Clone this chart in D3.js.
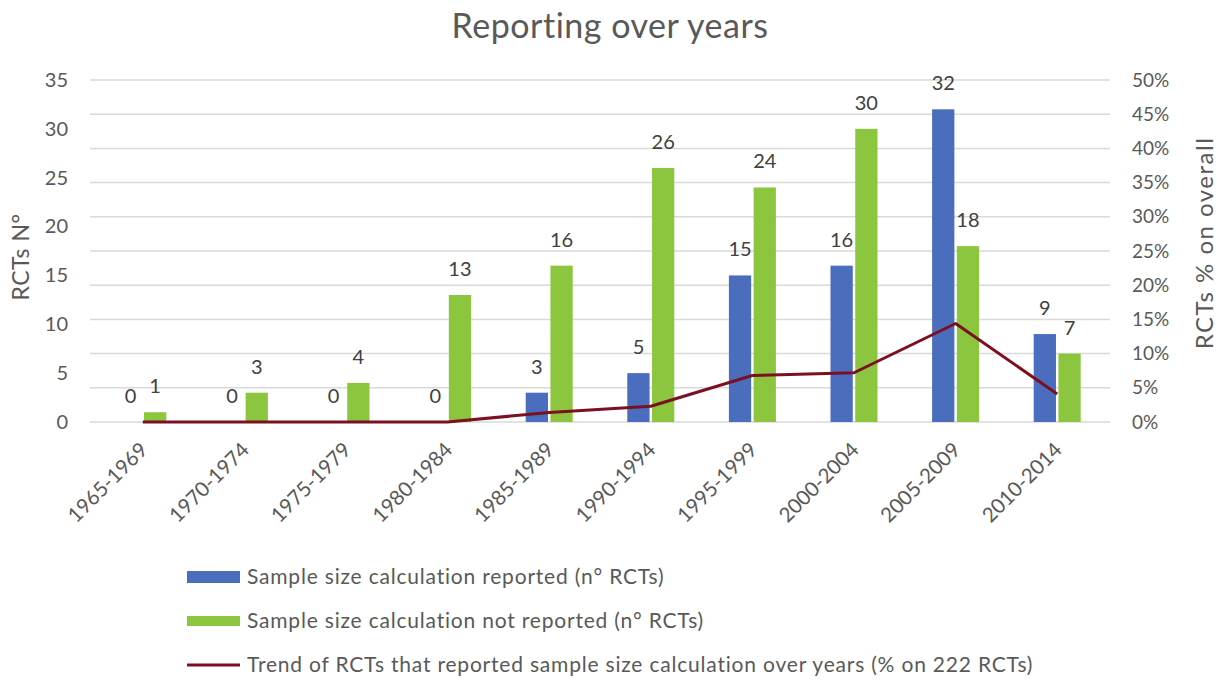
<!DOCTYPE html>
<html>
<head>
<meta charset="utf-8">
<script src="https://cdn.jsdelivr.net/npm/d3@7"></script>
<style>
  html, body { margin: 0; padding: 0; background: #fff; }
  svg { display: block; font-family: Lato, "Open Sans", sans-serif; }
</style>
</head>
<body>
<svg id="chart" width="1217" height="680"></svg>
<script>
// ---- data ----
const categories = ["1965-1969","1970-1974","1975-1979","1980-1984","1985-1989","1990-1994","1995-1999","2000-2004","2005-2009","2010-2014"];
const reported = [0,0,0,0,3,5,15,16,32,9];
const notReported = [1,3,4,13,16,26,24,30,18,7];
const trendPct = [0,0,0,0,1.4,2.3,6.8,7.2,14.4,4.1];
const leftTicks = [0,5,10,15,20,25,30,35];
const rightTicks = [0,5,10,15,20,25,30,35,40,45,50];
const seriesNames = [
  "Sample size calculation reported (n° RCTs)",
  "Sample size calculation not reported (n° RCTs)",
  "Trend of RCTs that reported sample size calculation over years (% on 222 RCTs)"
];

// ---- styles ----
const BLUE = "#4a6dbd", GREEN = "#8cc63f", RED = "#7a1020", TXT = "#595959", GRID = "#d9d9d9";

const svg = d3.select("#chart");
const plotL = 90, plotR = 1110, plotT = 80, plotB = 422;

const x = d3.scaleBand().domain(categories).range([92, 1108]).padding(0);
const sub = d3.scaleBand().domain(["rep","not"]).range([-23.5, 23.5]).paddingInner(0.1);
const yL = d3.scaleLinear().domain([0, 35]).range([plotB, plotT]);
const yR = d3.scaleLinear().domain([0, 50]).range([plotB, plotT]);
const cx = d => x(d) + x.bandwidth() / 2;

// title
svg.append("text").attr("x", 610).attr("y", 38).attr("text-anchor", "middle")
  .attr("font-size", 34).attr("letter-spacing", 0.5).attr("fill", TXT).text("Reporting over years");

// gridlines (from right axis ticks)
svg.append("g").selectAll("line").data(rightTicks).join("line")
  .attr("x1", plotL).attr("x2", plotR)
  .attr("y1", d => yR(d)).attr("y2", d => yR(d))
  .attr("stroke", GRID).attr("stroke-width", 1.5);

// left axis
const gL = svg.append("g").attr("transform", `translate(${plotL - 14},0)`)
  .call(d3.axisLeft(yL).tickValues(leftTicks).tickSize(0).tickPadding(8));
gL.select(".domain").remove();
gL.selectAll("text").attr("font-size", 20).attr("fill", TXT).attr("font-family", "Lato, sans-serif");

// right axis
const gR = svg.append("g").attr("transform", `translate(${plotR + 14},0)`)
  .call(d3.axisRight(yR).tickValues(rightTicks).tickSize(0).tickPadding(8).tickFormat(d => d + "%"));
gR.select(".domain").remove();
gR.selectAll("text").attr("font-size", 19).attr("fill", TXT).attr("font-family", "Lato, sans-serif");

// axis titles
svg.append("text").attr("transform", "translate(29,257) rotate(-90)").attr("text-anchor", "middle")
  .attr("font-size", 23).attr("letter-spacing", 0.5).attr("fill", TXT).text("RCTs N°");
svg.append("text").attr("transform", "translate(1213,243) rotate(-90)").attr("text-anchor", "middle")
  .attr("font-size", 24).attr("letter-spacing", 1.5).attr("fill", TXT).text("RCTs % on overall");

// bars
const bars = svg.append("g");
bars.selectAll("rect.rep").data(categories).join("rect").attr("class", "rep")
  .attr("x", (d) => cx(d) + sub("rep")).attr("width", sub.bandwidth())
  .attr("y", (d, i) => yL(reported[i])).attr("height", (d, i) => plotB - yL(reported[i]))
  .attr("fill", BLUE);
bars.selectAll("rect.not").data(categories).join("rect").attr("class", "not")
  .attr("x", (d) => cx(d) + sub("not")).attr("width", sub.bandwidth())
  .attr("y", (d, i) => yL(notReported[i])).attr("height", (d, i) => plotB - yL(notReported[i]))
  .attr("fill", GREEN);

// trend line
const line = d3.line().x((d, i) => cx(categories[i])).y(d => yR(d));
svg.append("path").datum(trendPct).attr("d", line)
  .attr("fill", "none").attr("stroke", RED).attr("stroke-width", 3).attr("stroke-linejoin", "round");

// data labels
const labels = svg.append("g").attr("font-size", 20).attr("fill", "#404040").attr("text-anchor", "middle");
labels.selectAll("text.rep").data(categories).join("text").attr("class", "rep")
  .attr("x", d => cx(d) + sub("rep") + sub.bandwidth() / 2)
  .attr("y", (d, i) => yL(reported[i]) - 19).text((d, i) => reported[i]);
labels.selectAll("text.not").data(categories).join("text").attr("class", "not")
  .attr("x", d => cx(d) + sub("not") + sub.bandwidth() / 2)
  .attr("y", (d, i) => yL(notReported[i]) - 19).text((d, i) => notReported[i]);

// x axis labels
svg.append("g").selectAll("text").data(categories).join("text")
  .attr("transform", d => `translate(${cx(d) + 1},${plotB + 24}) rotate(-45)`)
  .attr("text-anchor", "end").attr("dy", "0.35em")
  .attr("font-size", 20.5).attr("fill", TXT).text(d => d);

// legend
const lg = svg.append("g").attr("font-size", 21).attr("letter-spacing", 0.8).attr("fill", TXT);
const rowsY = [577, 621, 665];
lg.append("rect").attr("x", 187).attr("y", rowsY[0] - 6).attr("width", 53).attr("height", 12).attr("fill", BLUE);
lg.append("rect").attr("x", 187).attr("y", rowsY[1] - 5).attr("width", 53).attr("height", 10).attr("fill", GREEN);
lg.append("line").attr("x1", 187).attr("x2", 240).attr("y1", rowsY[2]).attr("y2", rowsY[2])
  .attr("stroke", RED).attr("stroke-width", 3);
lg.selectAll("text").data(seriesNames).join("text")
  .attr("x", 247).attr("y", (d, i) => rowsY[i]).attr("dy", "0.35em").text(d => d);
</script>
</body>
</html>
